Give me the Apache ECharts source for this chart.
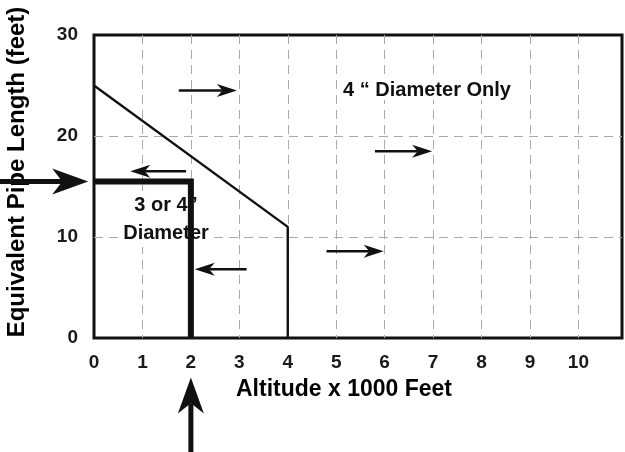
<!DOCTYPE html>
<html>
<head>
<meta charset="utf-8">
<script src="https://cdn.jsdelivr.net/npm/echarts@6/dist/echarts.min.js"></script>
<style>
  html, body { margin: 0; padding: 0; background: #fff; }
  #chart { width: 625px; height: 452px; }
</style>
</head>
<body>
<div id="chart"></div>
<script>
// altitude (x 1000 ft) ticks and pipe length ticks
var xTicks = [0, 1, 2, 3, 4, 5, 6, 7, 8, 9, 10];
var yTicks = [0, 10, 20, 30];

// limit line between the 3"/4" zone and the 4" only zone
var limitX = [0, 4, 4];
var limitY = [25, 11, 0];

// worked example: 15.5 ft of pipe at 2000 ft altitude
var exampleX = [0, 2, 2];
var exampleY = [15.5, 15.5, 0];

// small arrows [x1, y1, x2, y2]
var smallArrows = [
  [1.75, 24.5, 2.95, 24.5],
  [1.9, 16.5, 0.75, 16.5],
  [3.15, 6.8, 2.08, 6.8],
  [5.8, 18.5, 6.98, 18.5],
  [4.8, 8.6, 5.98, 8.6]
];
// big arrows pointing at the example inputs
var bigArrows = [
  [-1.95, 15.5, -0.12, 15.5],
  [2, -11.4, 2, -3.9]
];

var tickFont = '"Liberation Sans Narrow", "Arial Narrow", "Liberation Sans", sans-serif';
var nameFont = '"Liberation Sans", Arial, sans-serif';

var arrowData = smallArrows.map(function (a) { return a.concat([0]); })
  .concat(bigArrows.map(function (a) { return a.concat([1]); }));

function renderArrow (params, api) {
  var p1 = api.coord([api.value(0), api.value(1)]);
  var p2 = api.coord([api.value(2), api.value(3)]);
  var big = api.value(4) === 1;
  var L = big ? 36 : 20;
  var W = big ? 13 : 6.5;
  var S = big ? 5 : 2.5;
  var dx = p2[0] - p1[0];
  var dy = p2[1] - p1[1];
  var len = Math.sqrt(dx * dx + dy * dy);
  dx /= len; dy /= len;
  var nx = -dy, ny = dx;
  var bx = p2[0] - dx * L, by = p2[1] - dy * L;
  var kx = p2[0] - dx * L * 0.72, ky = p2[1] - dy * L * 0.72;
  return {
    type: 'group',
    children: [
      {
        type: 'line',
        shape: { x1: p1[0], y1: p1[1], x2: kx, y2: ky },
        style: { stroke: '#111', lineWidth: S }
      },
      {
        type: 'polygon',
        shape: { points: [p2, [bx + nx * W, by + ny * W], [kx, ky], [bx - nx * W, by - ny * W]] },
        style: { fill: '#111' }
      }
    ]
  };
}

var gridLine = {
  show: true,
  showMinLine: false,
  showMaxLine: false,
  lineStyle: { color: '#aaa', type: [9, 6], width: 1 }
};

var chart = echarts.init(document.getElementById('chart'));
chart.setOption({
  animation: false,
  backgroundColor: '#fff',
  grid: {
    left: 94, right: 2, top: 35, bottom: 114,
    show: true, borderColor: '#111', borderWidth: 3
  },
  xAxis: {
    type: 'value',
    min: xTicks[0],
    max: 10.9,
    interval: 1,
    axisLine: { show: false },
    axisTick: { show: false },
    axisLabel: {
      margin: 15,
      fontFamily: tickFont,
      fontSize: 19,
      fontWeight: 'bold',
      color: '#1a1a1a',
      formatter: function (v) { return xTicks.indexOf(v) >= 0 ? String(v) : ''; }
    },
    splitLine: gridLine
  },
  yAxis: {
    type: 'value',
    min: yTicks[0],
    max: yTicks[yTicks.length - 1],
    interval: 10,
    axisLine: { show: false },
    axisTick: { show: false },
    axisLabel: {
      margin: 16,
      fontFamily: tickFont,
      fontSize: 19,
      fontWeight: 'bold',
      color: '#1a1a1a'
    },
    splitLine: gridLine
  },
  graphic: [
    {
      type: 'text', x: 17, y: 172, rotation: Math.PI / 2, z: 1,
      style: {
        text: 'Equivalent Pipe Length (feet)', align: 'center', verticalAlign: 'middle',
        font: 'bold 24px ' + nameFont, fill: '#000'
      }
    },
    {
      type: 'text', x: 344, y: 390, z: 1,
      style: {
        text: 'Altitude x 1000 Feet', align: 'center', verticalAlign: 'middle',
        font: 'bold 23px ' + nameFont, fill: '#000'
      }
    },
    {
      type: 'text', x: 427, y: 90, z: 1,
      style: {
        text: '4 “ Diameter Only', align: 'center', verticalAlign: 'middle',
        font: 'bold 20px ' + tickFont, fill: '#111', backgroundColor: '#fff'
      }
    },
    {
      type: 'text', x: 166, y: 219, z: 1,
      style: {
        text: '3 or 4”\nDiameter', align: 'center', verticalAlign: 'middle',
        font: 'bold 20px ' + tickFont, fill: '#111', lineHeight: 28, backgroundColor: '#fff'
      }
    }
  ],
  series: [
    {
      type: 'line',
      data: limitX.map(function (x, i) { return [x, limitY[i]]; }),
      symbol: 'none',
      lineStyle: { color: '#111', width: 2.4 },
      z: 3
    },
    {
      type: 'line',
      data: exampleX.map(function (x, i) { return [x, exampleY[i]]; }),
      symbol: 'none',
      lineStyle: { color: '#111', width: 6, cap: 'butt', join: 'miter' },
      z: 4
    },
    {
      type: 'custom',
      renderItem: renderArrow,
      data: arrowData,
      encode: { x: [0, 2], y: [1, 3] },
      clip: false,
      z: 5
    }
  ]
});
</script>
</body>
</html>
